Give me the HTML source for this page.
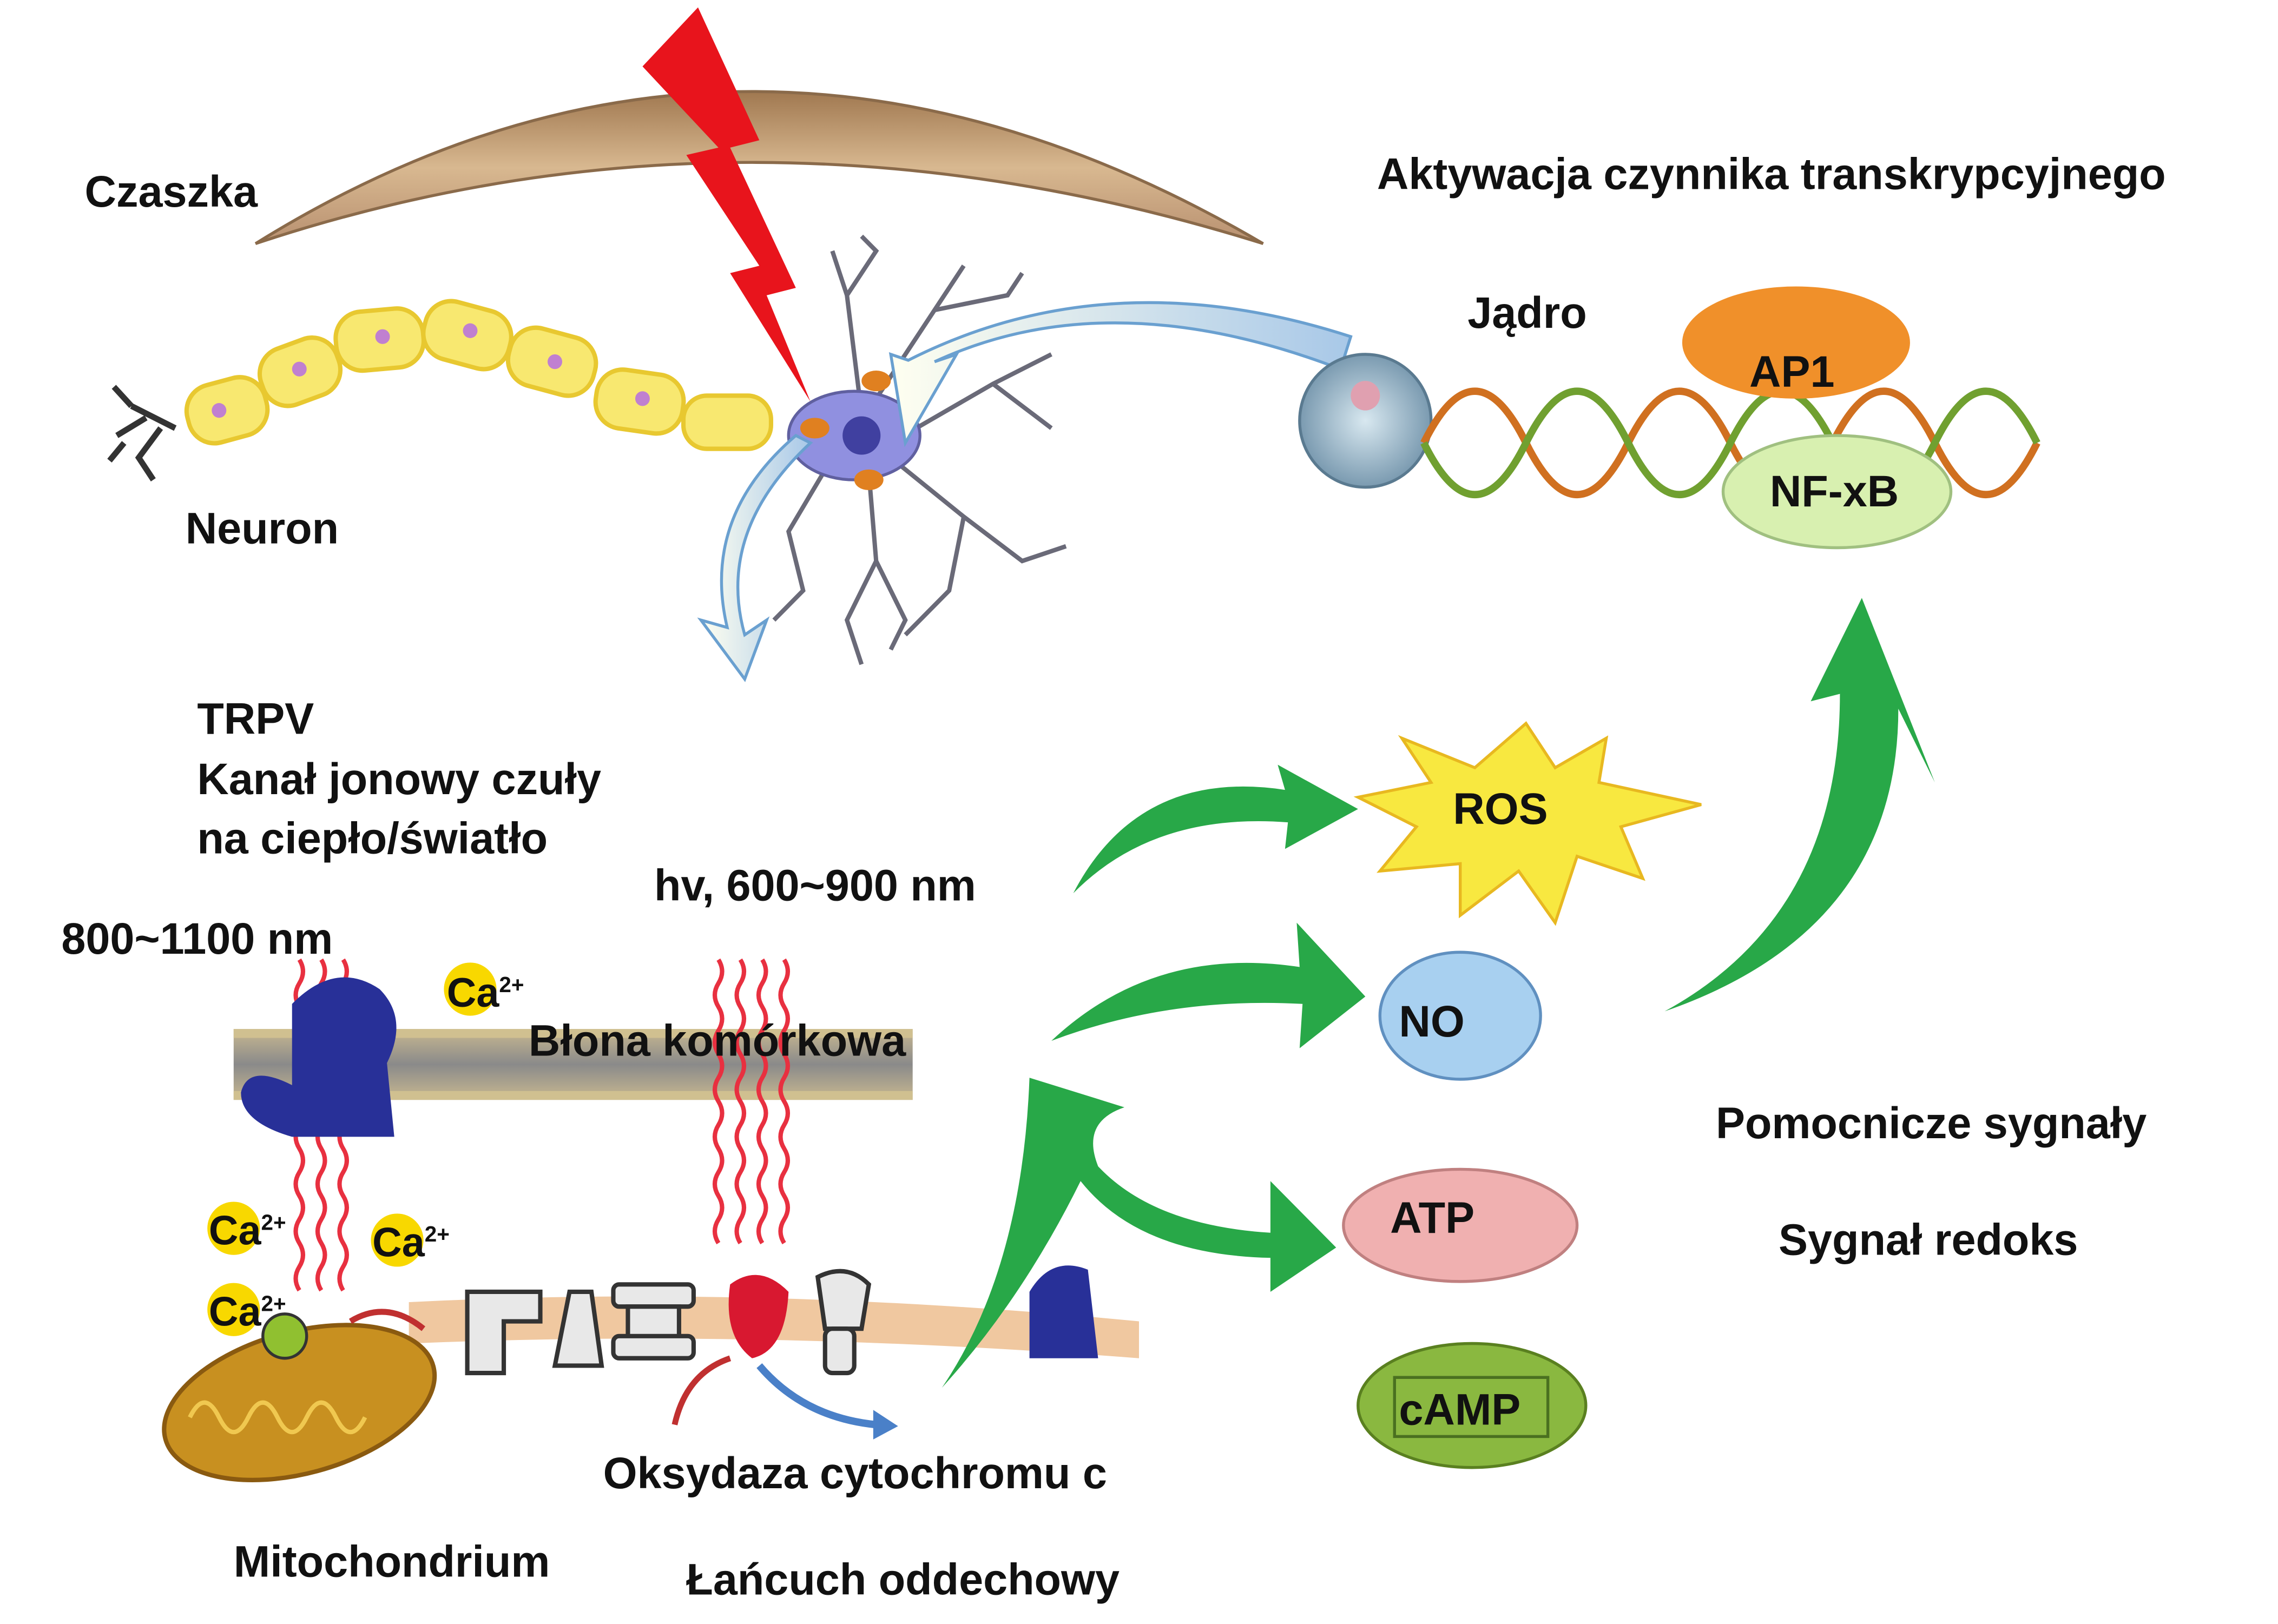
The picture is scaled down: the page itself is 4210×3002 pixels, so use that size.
<!DOCTYPE html>
<html><head><meta charset="utf-8"><style>
html,body{margin:0;padding:0;background:#fff;}
svg{display:block}
text{font-family:"Liberation Sans",sans-serif;font-weight:bold;fill:#111;}
</style></head><body>
<svg width="4210" height="3002" viewBox="0 0 1560 1100" preserveAspectRatio="none" xmlns="http://www.w3.org/2000/svg">
<defs>
<linearGradient id="sk" x1="0" y1="0" x2="0" y2="1"><stop offset="0" stop-color="#a07850"/><stop offset="0.5" stop-color="#d8b890"/><stop offset="1" stop-color="#b89070"/></linearGradient>
<linearGradient id="mem" x1="0" y1="0" x2="0" y2="1"><stop offset="0" stop-color="#c8b890"/><stop offset="0.5" stop-color="#8a8a8a"/><stop offset="1" stop-color="#c8b890"/></linearGradient>
<radialGradient id="nuc"><stop offset="0" stop-color="#d8e8f0"/><stop offset="1" stop-color="#7a9ab0"/></radialGradient>
<linearGradient id="blu" x1="0" y1="0" x2="1" y2="0"><stop offset="0" stop-color="#fffff0"/><stop offset="1" stop-color="#a8c8e8"/></linearGradient>
</defs>

<!-- skull -->
<path d="M175,165 Q510,-41 865,165 Q510,55 175,165 Z" fill="url(#sk)" stroke="#8a6a4a" stroke-width="2"/>
<!-- lightning -->
<polygon points="478,5 520,95 500,100 545,195 525,200 555,272 500,185 520,180 470,105 492,100 440,45" fill="#e8141c"/>

<!-- neuron chain -->
<g fill="#f8e870" stroke="#e8c830" stroke-width="3">
<rect x="128" y="258" width="55" height="40" rx="18" transform="rotate(-15 155 278)"/>
<rect x="178" y="232" width="55" height="40" rx="18" transform="rotate(-20 205 252)"/>
<rect x="230" y="210" width="60" height="40" rx="18" transform="rotate(-5 260 230)"/>
<rect x="290" y="207" width="60" height="40" rx="18" transform="rotate(15 320 227)"/>
<rect x="348" y="225" width="60" height="40" rx="18" transform="rotate(15 378 245)"/>
<rect x="408" y="252" width="60" height="40" rx="18" transform="rotate(8 438 272)"/>
<rect x="468" y="268" width="60" height="36" rx="16"/>
</g>
<g fill="#c080d0"><circle cx="150" cy="278" r="5"/><circle cx="205" cy="250" r="5"/><circle cx="262" cy="228" r="5"/><circle cx="322" cy="224" r="5"/><circle cx="380" cy="245" r="5"/><circle cx="440" cy="270" r="5"/></g>
<path d="M120,290 L90,275 M100,283 L80,295 M110,290 L95,310 L105,325 M90,275 L78,262 M85,300 L75,312" stroke="#333" stroke-width="4" fill="none"/>
<!-- dendrites -->
<g stroke="#6a6a78" stroke-width="3" fill="none">
<path d="M590,280 L580,200 L570,170 M580,200 L600,170 L590,160 M600,270 L640,210 L660,180 M640,210 L690,200 L700,185"/>
<path d="M610,300 L680,260 L720,240 M680,260 L720,290 M610,310 L660,350 L700,380 L730,370 M660,350 L650,400 L620,430"/>
<path d="M595,320 L600,380 L580,420 L590,450 M600,380 L620,420 L610,440 M570,310 L540,360 L550,400 L530,420"/>
</g>
<ellipse cx="585" cy="295" rx="45" ry="30" fill="#9090e0" stroke="#6060a0" stroke-width="2"/>
<circle cx="590" cy="295" r="13" fill="#4040a0"/>
<g fill="#e08020"><ellipse cx="600" cy="258" rx="10" ry="7"/><ellipse cx="558" cy="290" rx="10" ry="7"/><ellipse cx="595" cy="325" rx="10" ry="7"/></g>
<!-- light blue arrows -->
<path d="M918,250 Q760,190 640,245 L655,240 L620,300 L610,240 L622,244 Q760,175 925,228 Z" fill="url(#blu)" stroke="#6aa0d0" stroke-width="2"/>
<path d="M555,300 Q490,360 510,430 L525,420 L510,460 L480,420 L498,425 Q480,350 545,295 Z" fill="url(#blu)" stroke="#6aa0d0" stroke-width="2"/>

<!-- nucleus -->
<circle cx="935" cy="285" r="45" fill="url(#nuc)" stroke="#5a7a90" stroke-width="2"/>
<circle cx="935" cy="268" r="10" fill="#e0a0b0"/>
<!-- DNA -->
<path d="M975,300 Q1010,230 1045,300 T1115,300 T1185,300 T1255,300 T1325,300 T1395,300" stroke="#d07020" stroke-width="5" fill="none"/>
<path d="M975,300 Q1010,370 1045,300 T1115,300 T1185,300 T1255,300 T1325,300 T1395,300" stroke="#70a030" stroke-width="5" fill="none"/>
<ellipse cx="1230" cy="232" rx="78" ry="38" fill="#f0902a"/>
<ellipse cx="1258" cy="333" rx="78" ry="38" fill="#d8f0b0" stroke="#a0c080" stroke-width="2"/>

<!-- membrane -->
<rect x="160" y="697" width="465" height="48" fill="url(#mem)"/>
<rect x="160" y="697" width="465" height="6" fill="#d0c090"/>
<rect x="160" y="739" width="465" height="6" fill="#d0c090"/>
<!-- lower band -->
<path d="M280,882 Q520,870 780,895 L780,920 Q520,900 280,910 Z" fill="#f0c8a0"/>
<!-- red waves -->
<g stroke="#e83040" stroke-width="3" fill="none">
<path d="M205,650 q5,8 0,16 t0,16 t0,16 t0,16 t0,16 t0,16 t0,16 t0,16 t0,16 t0,16 t0,16 t0,16 t0,16 t0,16"/>
<path d="M220,650 q5,8 0,16 t0,16 t0,16 t0,16 t0,16 t0,16 t0,16 t0,16 t0,16 t0,16 t0,16 t0,16 t0,16 t0,16"/>
<path d="M235,650 q5,8 0,16 t0,16 t0,16 t0,16 t0,16 t0,16 t0,16 t0,16 t0,16 t0,16 t0,16 t0,16 t0,16 t0,16"/>
<path d="M492,650 q5,8 0,16 t0,16 t0,16 t0,16 t0,16 t0,16 t0,16 t0,16 t0,16 t0,16 t0,16 t0,16"/>
<path d="M507,650 q5,8 0,16 t0,16 t0,16 t0,16 t0,16 t0,16 t0,16 t0,16 t0,16 t0,16 t0,16 t0,16"/>
<path d="M522,650 q5,8 0,16 t0,16 t0,16 t0,16 t0,16 t0,16 t0,16 t0,16 t0,16 t0,16 t0,16 t0,16"/>
<path d="M537,650 q5,8 0,16 t0,16 t0,16 t0,16 t0,16 t0,16 t0,16 t0,16 t0,16 t0,16 t0,16 t0,16"/>
</g>
<!-- TRPV protein -->
<g fill="#283098">
<path d="M200,680 Q230,650 260,670 Q280,690 265,720 L270,770 L200,770 Q165,760 165,740 Q170,720 200,735 Z"/>
</g>
<path d="M705,875 Q720,850 745,860 L752,920 L705,920 Z" fill="#283098"/>
<!-- ETC proteins -->
<g fill="#e8e8e8" stroke="#333" stroke-width="3">
<path d="M320,875 L370,875 L370,895 L345,895 L345,930 L320,930 Z"/>
<path d="M380,925 L390,875 L405,875 L412,925 Z"/>
<rect x="420" y="870" width="55" height="15" rx="4"/><rect x="430" y="885" width="35" height="25"/><rect x="420" y="905" width="55" height="15" rx="4"/>
<path d="M560,865 Q580,855 595,870 L590,900 L565,900 Z"/><rect x="565" y="900" width="20" height="30" rx="5"/>
</g>
<path d="M500,870 Q520,855 540,875 Q538,915 515,920 Q495,905 500,870 Z" fill="#d81830"/>
<path d="M500,920 Q470,930 462,965" stroke="#c03030" stroke-width="4" fill="none"/>
<path d="M520,925 Q550,960 600,965" stroke="#4a80c8" stroke-width="5" fill="none"/>
<polygon points="598,955 615,966 598,975" fill="#4a80c8"/>
<!-- mitochondrion -->
<ellipse cx="205" cy="950" rx="95" ry="48" transform="rotate(-15 205 950)" fill="#c89020" stroke="#8a5a10" stroke-width="3"/>
<path d="M130,960 q10,-20 20,0 t20,0 t20,0 t20,0 t20,0 t20,0" stroke="#f0c850" stroke-width="3" fill="none"/>
<circle cx="195" cy="905" r="15" fill="#90c030" stroke="#333" stroke-width="2"/>
<path d="M240,895 Q265,880 290,900" stroke="#c03030" stroke-width="4" fill="none"/>
<!-- Ca -->
<g fill="#f8d800"><circle cx="322" cy="670" r="18"/><circle cx="160" cy="832" r="18"/><circle cx="272" cy="840" r="18"/><circle cx="160" cy="887" r="18"/></g>

<!-- green arrows -->
<g fill="#28a848">
<path d="M735,605 Q780,520 880,535 L875,518 L930,548 L880,575 L882,557 Q790,550 735,605 Z"/>
<path d="M720,705 Q790,640 890,655 L888,625 L935,675 L890,710 L892,680 Q800,675 720,705 Z"/>
<path d="M645,940 Q700,860 705,730 L770,750 Q740,760 752,790 Q790,830 870,835 L870,800 L915,845 L870,875 L870,852 Q780,850 740,800 Q700,880 645,940 Z"/>
<path d="M1140,685 Q1260,620 1260,470 L1240,475 L1275,405 L1325,530 L1300,480 Q1300,630 1140,685 Z"/>
</g>
<!-- ROS star -->
<polygon points="1045,490 1065,520 1100,500 1095,530 1165,545 1110,560 1125,595 1080,580 1065,625 1040,590 1000,620 1000,585 945,590 970,560 930,540 980,530 960,500 1010,520" fill="#f8e840" stroke="#e8b820" stroke-width="2"/>
<ellipse cx="1000" cy="688" rx="55" ry="43" fill="#a8d0f0" stroke="#6090c0" stroke-width="2"/>
<ellipse cx="1000" cy="830" rx="80" ry="38" fill="#f0b0b0" stroke="#c08080" stroke-width="2"/>
<ellipse cx="1008" cy="952" rx="78" ry="42" fill="#8ab840" stroke="#5a8020" stroke-width="2"/>
<rect x="955" y="933" width="105" height="40" fill="none" stroke="#4a7020" stroke-width="2"/>

<!-- labels -->
<g font-size="30">
<text x="58" y="140">Czaszka</text>
<text x="943" y="128">Aktywacja czynnika transkrypcyjnego</text>
<text x="1005" y="222">Jądro</text>
<text x="1198" y="262">AP1</text>
<text x="1212" y="343">NF-xB</text>
<text x="127" y="368">Neuron</text>
<text x="135" y="497">TRPV</text>
<text x="135" y="538">Kanał jonowy czuły</text>
<text x="135" y="578">na ciepło/światło</text>
<text x="448" y="610">hv, 600~900 nm</text>
<text x="42" y="646">800~1100 nm</text>
<text x="995" y="558">ROS</text>
<text x="958" y="702">NO</text>
<text x="362" y="715">Błona komórkowa</text>
<text x="1175" y="771">Pomocnicze sygnały</text>
<text x="1218" y="850">Sygnał redoks</text>
<text x="952" y="835">ATP</text>
<text x="958" y="965">cAMP</text>
<text x="413" y="1008">Oksydaza cytochromu c</text>
<text x="160" y="1068">Mitochondrium</text>
<text x="470" y="1080">Łańcuch oddechowy</text>
<text x="306" y="682" font-size="28">Ca<tspan font-size="15" dy="-10">2+</tspan></text>
<text x="143" y="843" font-size="28">Ca<tspan font-size="15" dy="-10">2+</tspan></text>
<text x="255" y="851" font-size="28">Ca<tspan font-size="15" dy="-10">2+</tspan></text>
<text x="143" y="898" font-size="28">Ca<tspan font-size="15" dy="-10">2+</tspan></text>
</g>
</svg>
</body></html>
